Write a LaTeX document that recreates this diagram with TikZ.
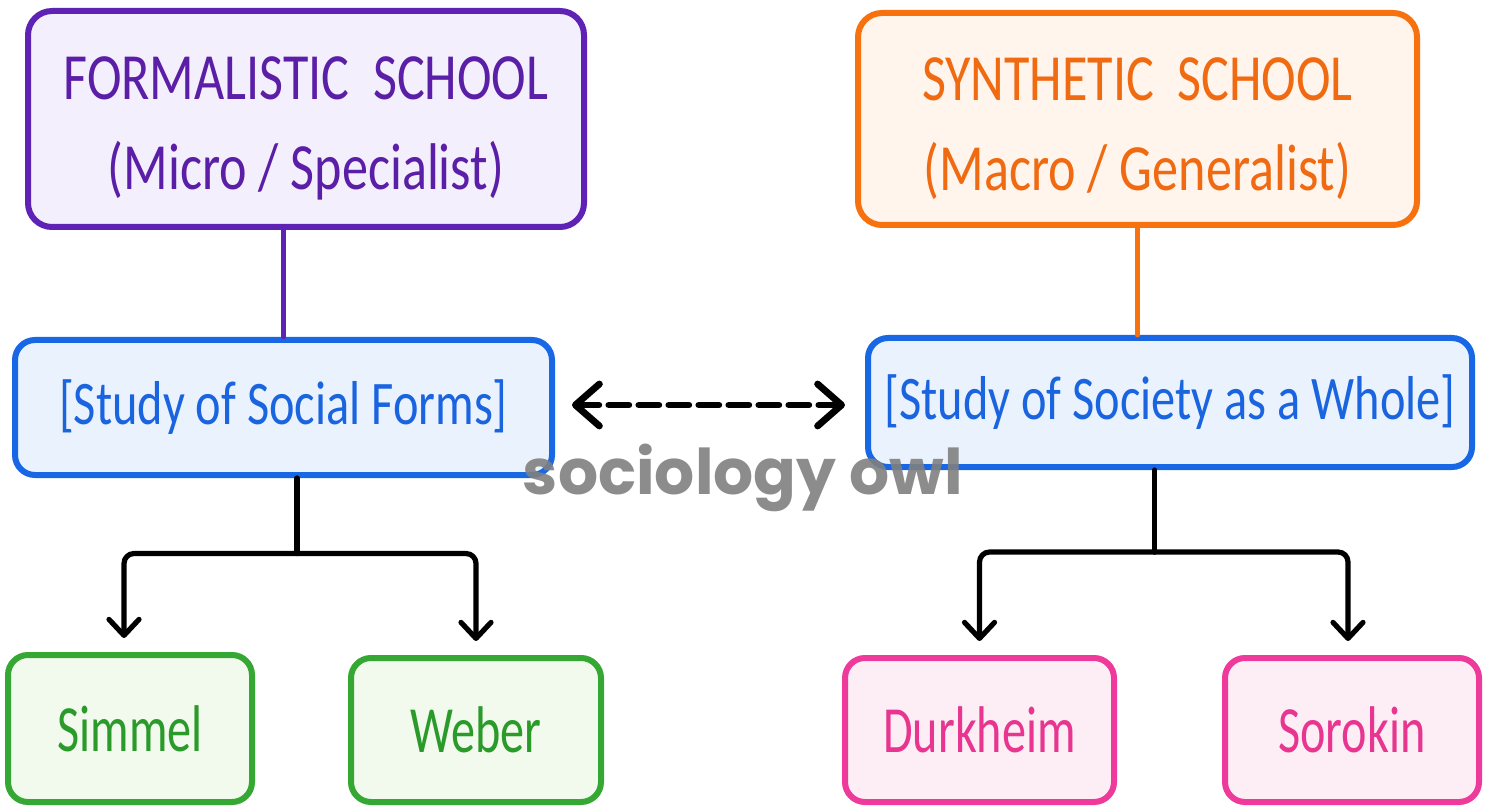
\documentclass[tikz,border=0pt]{standalone}
\usepackage{fontspec}
\setmainfont{Carlito}
\newfontfamily\handA[FakeStretch=0.79]{Carlito}
\newfontfamily\handB[FakeStretch=0.78]{Carlito}
\newfontfamily\handC[FakeStretch=0.73]{Carlito}
\newfontfamily\wmfont{Poppins}
\usetikzlibrary{arrows.meta,calc}
\definecolor{pstroke}{HTML}{5E22B5}
\definecolor{pfill}{HTML}{F4EFFC}
\definecolor{ptext}{HTML}{5A1FA6}
\definecolor{ostroke}{HTML}{F7720F}
\definecolor{ofill}{HTML}{FFF5EC}
\definecolor{otext}{HTML}{F06A12}
\definecolor{bstroke}{HTML}{1868E6}
\definecolor{bfill}{HTML}{EAF3FD}
\definecolor{btext}{HTML}{1A64E0}
\definecolor{gstroke}{HTML}{34A833}
\definecolor{gfill}{HTML}{F2FAED}
\definecolor{gtext}{HTML}{2A9A2A}
\definecolor{kstroke}{HTML}{EE3A9A}
\definecolor{kfill}{HTML}{FDEEF6}
\definecolor{ktext}{HTML}{E8358F}
\definecolor{wmgray}{HTML}{808080}
\begin{document}
\begin{tikzpicture}[x=0.5pt,y=-0.5pt,
  box/.style={draw, line width=3pt, rounded corners=12pt, inner sep=0pt, align=center},
  headbox/.style={box, font=\handA\fontsize{33}{45}\selectfont},
  midbox/.style={box, rounded corners=10pt, font=\handB\fontsize{31}{31}\selectfont},
  leafbox/.style={box, rounded corners=10pt, font=\handC\fontsize{33}{33}\selectfont},
  link/.style={line width=2.6pt, line cap=round, line join=round, rounded corners=5pt},
  tip/.style={-{Straight Barb[length=8pt,width=15pt,line cap=round,line join=round]}},
  both/.style={{Straight Barb[length=12pt,width=21pt,line cap=round,line join=round]}-{Straight Barb[length=12pt,width=21pt,line cap=round,line join=round]}}
]
\useasboundingbox (0,0) rectangle (1487,812);
\fill[white] (0,0) rectangle (1487,812);

\node[headbox, draw=pstroke, fill=pfill, text=ptext, minimum width=278pt, minimum height=108pt] (F) at (306,119) {\rule{0pt}{31pt}FORMALISTIC\ \ SCHOOL\\(Micro / Specialist)};
\node[headbox, draw=ostroke, fill=ofill, text=otext, minimum width=279.5pt, minimum height=106pt] (S) at (1137.5,119) {\rule{0pt}{31pt}SYNTHETIC\ \ SCHOOL\\(Macro / Generalist)};

\node[midbox, draw=bstroke, fill=bfill, text=btext, minimum width=268.5pt, minimum height=67.5pt] (SF) at (283.5,407.5) {[Study of Social Forms]};
\node[midbox, draw=bstroke, fill=bfill, text=btext, minimum width=302pt, minimum height=64.5pt] (SW) at (1170,402.5) {[Study of Society as a Whole]};

\node[leafbox, draw=gstroke, fill=gfill, text=gtext, minimum width=122pt, minimum height=73.5pt] (sim) at (130,728.5) {Simmel};
\node[leafbox, draw=gstroke, fill=gfill, text=gtext, minimum width=125pt, minimum height=72pt] (web) at (476,730) {Weber};
\node[leafbox, draw=kstroke, fill=kfill, text=ktext, minimum width=134.5pt, minimum height=72pt] (dur) at (979.5,730) {Durkheim};
\node[leafbox, draw=kstroke, fill=kfill, text=ktext, minimum width=127pt, minimum height=72pt] (sor) at (1352,730) {Sorokin};

% top links
\draw[link, pstroke, line width=2.4pt] (F.south -| SF.north) -- (SF.north);
\draw[link, ostroke, line width=2.4pt] (S.south) -- (S.south |- SW.north);

% left tree
\coordinate (lj) at ($(sim.north)!0.5!(web.north) + (-6,-100)$);
\draw[link] (lj |- SF.south) -- (lj);
\draw[link, tip, shorten >=7pt] (lj) -| ($(sim.north)+(-6,0)$);
\draw[link, tip, shorten >=7pt] (lj) -| (web.north);

% right tree
\coordinate (rj) at ($(dur.north)!0.5!(sor.north) + (-11,-103)$);
\draw[link] (rj |- SW.south) -- (rj);
\draw[link, tip, shorten >=7pt] (rj) -| (dur.north);
\draw[link, tip, shorten >=7pt] (rj) -| ($(sor.north)+(-4,0)$);

% dashed double arrow
\draw[line width=3.4pt, line cap=round, both, dash pattern=on 10pt off 5pt, shorten <=8.5pt, shorten >=10pt] ($(SF.east)+(0,-2.5)$) -- ($(SW.west)+(0,2.5)$);

% watermark
\node[font=\wmfont\bfseries\fontsize{31.5}{31.5}\selectfont, text=wmgray, text opacity=0.9, inner sep=0pt] (wm) at (743,478) {sociology owl};
\end{tikzpicture}
\end{document}
